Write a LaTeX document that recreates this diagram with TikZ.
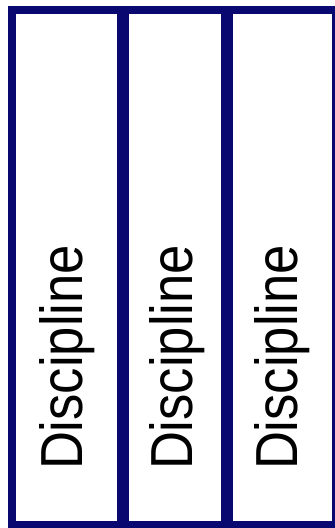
\documentclass[tikz,border=0pt]{standalone}
\usepackage{fontspec}
\setmainfont{Liberation Sans}
\usepackage{graphicx}
\usetikzlibrary{positioning}
\definecolor{spinenavy}{RGB}{8,8,112}
\newcommand{\spinetext}[1]{\resizebox{225pt}{43pt}{#1}}

\begin{document}
\begin{tikzpicture}[
  x=1pt, y=1pt,
  node distance=12pt,
  frame/.style={fill=spinenavy, inner sep=0pt, outer sep=0pt, anchor=south west},
  col/.style={fill=white, inner sep=0pt, outer sep=0pt, minimum height=507pt},
  lbl/.style={rotate=90, anchor=base west, inner sep=0pt, outer sep=0pt}
]
\useasboundingbox (0,0) rectangle (335,528);
\node[frame, minimum width=327pt, minimum height=522pt] (shelf) at (8,0) {};
\node[col, minimum width=101pt, anchor=north west] (c1) at (16,514) {};
\node[col, minimum width=92pt, right=of c1] (c2) {};
\node[col, minimum width=99pt, right=of c2] (c3) {};
\node[lbl] (t1) at ([xshift=67pt, yshift=51pt]c1.south west) {\spinetext{Discipline}};
\node[lbl] (t2) at ([xshift=64pt, yshift=51pt]c2.south west) {\spinetext{Discipline}};
\node[lbl] (t3) at ([xshift=64pt, yshift=51pt]c3.south west) {\spinetext{Discipline}};
\end{tikzpicture}
\end{document}
